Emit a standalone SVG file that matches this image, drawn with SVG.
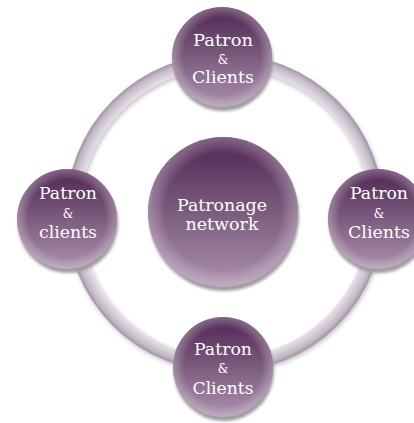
<svg xmlns="http://www.w3.org/2000/svg" width="414" height="423" viewBox="0 0 414 423">
<defs>
  <linearGradient id="nodeFill" x1="0" y1="0" x2="0" y2="1">
    <stop offset="0" stop-color="#4e2452"/>
    <stop offset="0.45" stop-color="#775779"/>
    <stop offset="1" stop-color="#ab91ad"/>
  </linearGradient>
  <radialGradient id="rim" cx="0.5" cy="0.5" r="0.5">
    <stop offset="0.78" stop-color="#ffffff" stop-opacity="0"/>
    <stop offset="1" stop-color="#e8dcea" stop-opacity="0.35"/>
  </radialGradient>
  <radialGradient id="ringGrad" gradientUnits="userSpaceOnUse" cx="225" cy="213" r="162">
    <stop offset="0.895" stop-color="#e6e0e8"/>
    <stop offset="0.925" stop-color="#d6cdd8"/>
    <stop offset="0.955" stop-color="#c4b8c6"/>
    <stop offset="0.981" stop-color="#a092a3"/>
  </radialGradient>
  <filter id="blur" x="-20%" y="-20%" width="140%" height="140%"><feGaussianBlur stdDeviation="1.6"/></filter>
  <filter id="blur2" x="-20%" y="-20%" width="140%" height="140%"><feGaussianBlur stdDeviation="2"/></filter>
</defs>
<style>
  .sh { fill: #9c9c9c; filter: url(#blur); }
  .body { fill: url(#nodeFill); }
  .rim { fill: url(#rim); }
  .t { font-family: "DejaVu Serif", "Liberation Serif", serif; fill: #ffffff; text-anchor: middle; font-size: 17px; }
  .amp { font-size: 12px; }
</style>
<rect width="414" height="423" fill="#ffffff"/>
<g id="connectors">
  <circle cx="226" cy="215" r="152" fill="none" stroke="#8f8f8f" stroke-width="14" opacity="0.55" filter="url(#blur2)"/>
  <circle cx="225" cy="213" r="152" fill="none" stroke="url(#ringGrad)" stroke-width="14"/>
</g>
<g id="center">
  <circle class="sh" cx="224" cy="216" r="75"/>
  <circle class="body" cx="223" cy="212" r="75"/>
  <circle class="rim" cx="223" cy="212" r="75"/>
  <text class="t" x="222" y="211" textLength="90" lengthAdjust="spacingAndGlyphs">Patronage</text>
  <text class="t" x="222" y="230" textLength="73" lengthAdjust="spacingAndGlyphs">network</text>
</g>
<g id="top">
  <circle class="sh" cx="223" cy="61" r="50"/>
  <circle class="body" cx="222" cy="57" r="50"/>
  <circle class="rim" cx="222" cy="57" r="50"/>
  <text class="t" x="223" y="46" textLength="60" lengthAdjust="spacingAndGlyphs">Patron</text>
  <text class="t amp" x="223" y="64">&amp;</text>
  <text class="t" x="223" y="83" textLength="62" lengthAdjust="spacingAndGlyphs">Clients</text>
</g>
<g id="left">
  <circle class="sh" cx="68" cy="223" r="50"/>
  <circle class="body" cx="67" cy="219" r="50"/>
  <circle class="rim" cx="67" cy="219" r="50"/>
  <text class="t" x="68" y="199" textLength="58" lengthAdjust="spacingAndGlyphs">Patron</text>
  <text class="t amp" x="68" y="218">&amp;</text>
  <text class="t" x="68" y="238" textLength="58" lengthAdjust="spacingAndGlyphs">clients</text>
</g>
<g id="right">
  <circle class="sh" cx="379" cy="223" r="50"/>
  <circle class="body" cx="378" cy="219" r="50"/>
  <circle class="rim" cx="378" cy="219" r="50"/>
  <text class="t" x="379" y="199" textLength="58" lengthAdjust="spacingAndGlyphs">Patron</text>
  <text class="t amp" x="379" y="218">&amp;</text>
  <text class="t" x="379" y="238" textLength="62" lengthAdjust="spacingAndGlyphs">Clients</text>
</g>
<g id="bottom">
  <circle class="sh" cx="224" cy="371" r="50"/>
  <circle class="body" cx="223" cy="367" r="50"/>
  <circle class="rim" cx="223" cy="367" r="50"/>
  <text class="t" x="223" y="355" textLength="58" lengthAdjust="spacingAndGlyphs">Patron</text>
  <text class="t amp" x="223" y="373">&amp;</text>
  <text class="t" x="223" y="394" textLength="61" lengthAdjust="spacingAndGlyphs">Clients</text>
</g>
</svg>
